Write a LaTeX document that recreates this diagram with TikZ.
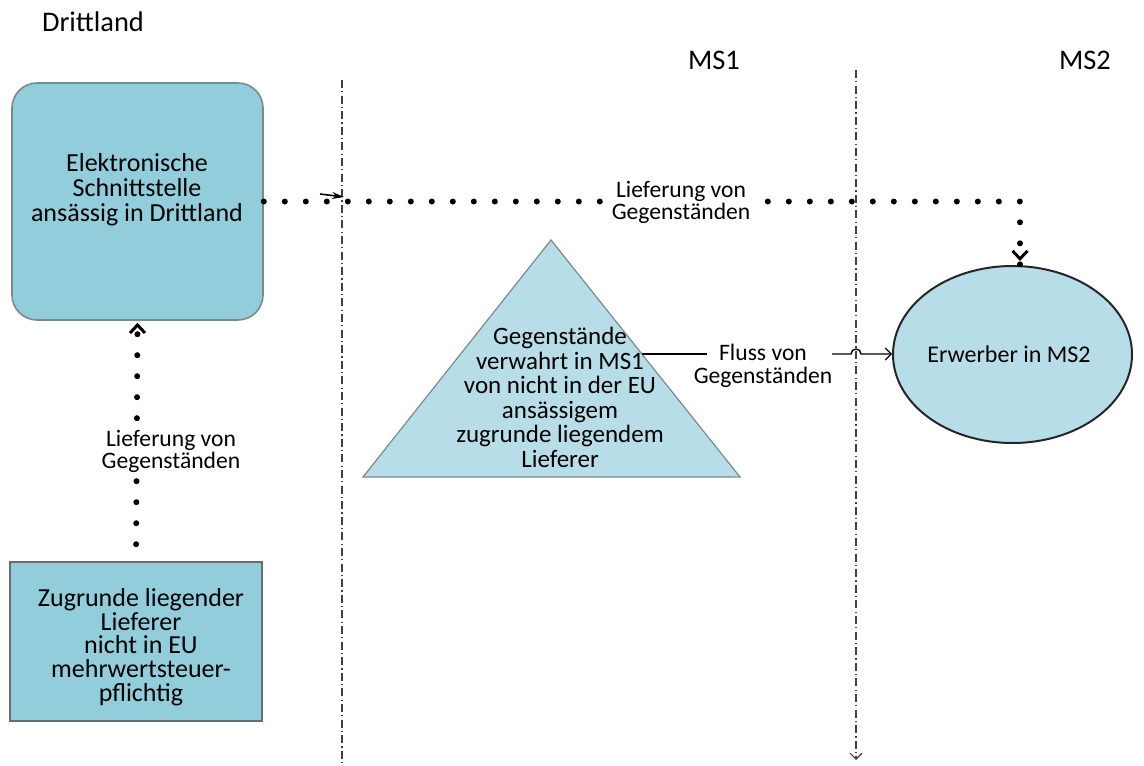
\documentclass[tikz,border=0pt]{standalone}
\usepackage{fontspec}
\setmainfont{Carlito}
\usetikzlibrary{arrows.meta,shapes.geometric}
\definecolor{boxfill}{HTML}{92CDDC}
\definecolor{lightfill}{HTML}{B7DEE8}
\definecolor{boxedge}{HTML}{7A8A90}
\begin{document}
\begin{tikzpicture}[x=0.5pt,y=-0.5pt,
  boxtext/.style={align=center,font=\fontsize{13pt}{12.5pt}\selectfont,inner sep=0pt},
  lbl/.style={align=center,font=\fontsize{11.8pt}{11.2pt}\selectfont,fill=white,inner sep=1pt},
  header/.style={font=\fontsize{14.2pt}{16pt}\selectfont,inner sep=0pt},
  dotline/.style={line width=3pt,line cap=round,dash pattern=on 0pt off 10.5pt},
  boundary/.style={dash pattern=on 4pt off 1.6pt on 0.6pt off 1.6pt,line width=0.7pt,black!75},
  barb/.style={-{Straight Barb[length=4pt,width=7.5pt,line width=1.5pt]}},
]
\useasboundingbox (0,0) rectangle (1144,765);

% region headings
\node[header] (hdrDritt) at (93,22) {Drittland};
\node[header] (hdrMSone) at (714,60) {MS1};
\node[header] (hdrMStwo) at (1085,60) {MS2};

% borders between the regions
\coordinate (bAtop) at (342,80);
\coordinate (bAbot) at (342,765);
\coordinate (bBtop) at (856,70);
\coordinate (bBbot) at (856,760);
\draw[boundary] (bAtop) -- (bAbot);
\draw[boundary,-{Straight Barb[length=3pt,width=6pt,line width=0.6pt]}] (bBtop) -- (bBbot);

% shapes
\node[draw=boxedge,fill=boxfill,line width=0.8pt,rounded corners=12.5pt,
      minimum width=125.5pt,minimum height=118.5pt,inner sep=0pt] (platform) at (137.5,201.5) {};
\node[boxtext] (platformtext) at (137,190) {Elektronische\\Schnittstelle\\ansässig in Drittland};

\node[draw=boxedge!80!black,fill=boxfill,line width=0.8pt,
      minimum width=126pt,minimum height=79.5pt,inner sep=0pt] (supplier) at (136,641.5) {};
\node[boxtext,font=\fontsize{13pt}{11.9pt}\selectfont] (suppliertext) at (141,647)
  {Zugrunde liegender\\Lieferer\\nicht in EU\\mehrwertsteuer-\\pflichtig};

\coordinate (triTop) at (551,240);
\coordinate (triLeft) at (363,477);
\coordinate (triRight) at (740,477);
\draw[fill=lightfill,draw=boxedge,line width=0.6pt] (triTop) -- (triRight) -- (triLeft) -- cycle;
\node[boxtext,font=\fontsize{12.5pt}{12.3pt}\selectfont] (stock) at (560,397.5)
  {Gegenstände\\verwahrt in MS1\\von nicht in der EU\\ansässigem\\zugrunde liegendem\\Lieferer};

\node[ellipse,draw=black!85,fill=lightfill,line width=1pt,
      minimum width=119.5pt,minimum height=88.5pt,inner sep=0pt] (buyer) at (1012.5,354.5) {};
\node[boxtext,font=\fontsize{12pt}{14pt}\selectfont] (buyertext) at (1009,354) {Erwerber in MS2};

% supply from the platform to the buyer
\coordinate (turn) at (1020,201.5);
\draw[dotline] (platform.east) -- (turn) -- ([yshift=-2pt]buyer.north -| turn);
\draw[barb] ([yshift=3pt]buyer.north -| turn) -- ([yshift=2pt]buyer.north -| turn);
\node[lbl] (lblTop) at (681,202.5) {Lieferung von\\Gegenständen};

% supply from the underlying supplier to the platform
\draw[dotline,shorten <=8.5pt] (supplier.north) -- ([yshift=-2pt]platform.south);
\draw[barb] ([yshift=-3pt]platform.south) -- ([yshift=-1pt]platform.south);
\node[lbl] (lblLeft) at (171,451.5) {Lieferung von\\Gegenständen};

% short marker arrow at the first border
\coordinate (stubA) at (320,194);
\coordinate (stubB) at (344,197);
\draw[-{Stealth[length=6pt,width=3.5pt]},line width=0.8pt] (stubA) -- (stubB);

% flow of goods from the warehouse to the buyer
\coordinate (flowStart) at (642,354);
\coordinate (flowGapA) at (707,354);
\coordinate (flowGapB) at (832,354);
\node[lbl,fill=none] (lblFlow) at (763,366) {Fluss von\\Gegenständen};
\draw[line width=0.7pt] (flowStart) -- (flowGapA);
\draw[line width=0.7pt,-{Straight Barb[length=3pt,width=6pt,line width=0.6pt]}]
  (flowGapB) -- (851,354) arc[start angle=180,end angle=360,radius=5] -- (buyer.west |- flowStart);
\end{tikzpicture}
\end{document}
